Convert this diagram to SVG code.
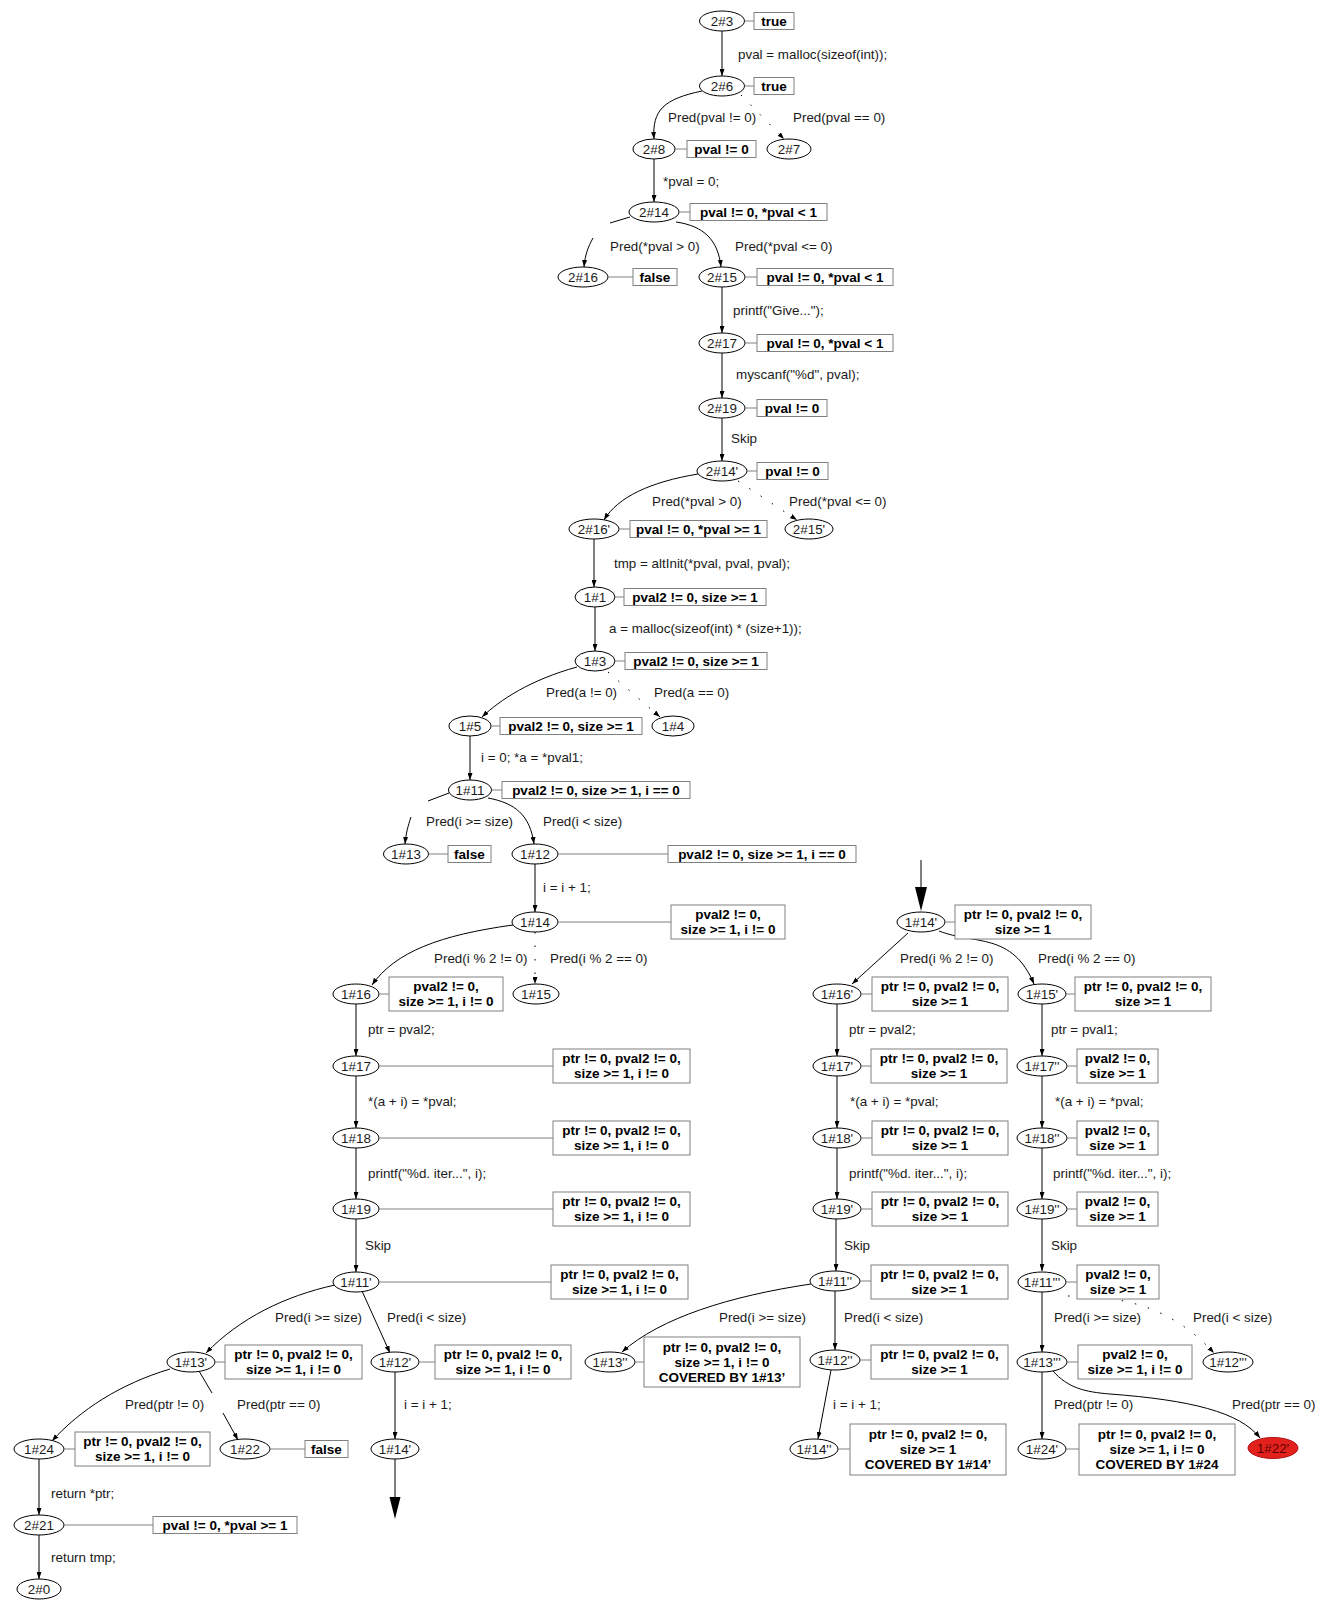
<svg xmlns="http://www.w3.org/2000/svg" width="1329" height="1602" viewBox="0 0 1329 1602">
<defs>
<marker id="ah" markerWidth="7" markerHeight="5" refX="7" refY="2.5" orient="auto" markerUnits="userSpaceOnUse"><path d="M0,0 L7,2.5 L0,5 z" fill="#000"/></marker>
</defs>
<style>
text{font-family:"Liberation Sans",Arial,Helvetica,sans-serif;font-size:13.4px;fill:#1a1a1a}
.n ellipse{fill:#fff;stroke:#000;stroke-width:1}
.n text{text-anchor:middle}
.n text.b{font-weight:bold;font-size:13.5px;fill:#000}
.box{fill:#fff;stroke:#808080;stroke-width:1}
.tie{stroke:#808080;stroke-width:1}
.e{fill:none;stroke:#000;stroke-width:1;marker-end:url(#ah)}
.e0{fill:none;stroke:#000;stroke-width:1}
.d{stroke-dasharray:1.5 12}
.big{fill:#000}
#n1_22pp ellipse{fill:#e2211c;stroke:#b01010}
#n1_22pp text{fill:#5c0000}
</style>
<rect width="1329" height="1602" fill="#fff"/>

<g id="edges">
<path class="e" d="M722,31 V76"/>
<path class="e" d="M702,91 C664,99 652,110 654,139"/>
<path class="e d" d="M741,95 L784,139"/>
<path class="e" d="M654,159 V202"/>
<path class="e0" d="M630,217 L610,223"/>
<path class="e" d="M593,238 C588,247 585,255 584,267"/>
<path class="e" d="M676,222 C704,226 718,240 721,267"/>
<path class="e" d="M722,287 V333"/>
<path class="e" d="M722,353 V398"/>
<path class="e" d="M722,418 V461"/>
<path class="e" d="M698,474 C650,482 618,497 604,520"/>
<path class="e d" d="M738,481 L797,520"/>
<path class="e" d="M594,539 V587"/>
<path class="e" d="M595,607 V651"/>
<path class="e" d="M577,667 C530,680 500,700 482,717"/>
<path class="e d" d="M608,672 L660,717"/>
<path class="e" d="M470,736 V780"/>
<path class="e0" d="M449,793 L428,801"/>
<path class="e" d="M411,817 C408,826 406,833 405,844"/>
<path class="e" d="M488,798 C515,803 530,815 534,844"/>
<path class="e" d="M535,864 V912"/>
<path class="e" d="M513,925 C440,935 395,952 372,985"/>
<path class="e d" d="M535,932 V984"/>
<path class="e" d="M356,1004 V1056"/>
<path class="e" d="M356,1076 V1128"/>
<path class="e" d="M356,1148 V1199"/>
<path class="e" d="M356,1219 V1272"/>
<path class="e" d="M335,1285 C285,1296 240,1318 206,1353"/>
<path class="e" d="M362,1291 L390,1353"/>
<path class="e" d="M170,1369 C120,1384 80,1410 52,1441"/>
<path class="e0" d="M199,1371 L212,1393"/>
<path class="e" d="M223,1413 L238,1440"/>
<path class="e" d="M395,1372 V1439"/>
<path class="e0" d="M395,1459 V1497"/>
<polygon class="big" points="389.5,1497 400.5,1497 395,1519"/>
<path class="e" d="M39,1459 V1515"/>
<path class="e" d="M39,1535 V1579"/>
<path class="e0" d="M921,860 V887"/>
<polygon class="big" points="915,887 927,887 921,911"/>
<path class="e" d="M908,933 L852,984"/>
<path class="e" d="M939,931 C975,945 1012,932 1034,984"/>
<path class="e" d="M837,1004 V1056"/>
<path class="e" d="M837,1076 V1128"/>
<path class="e" d="M837,1148 V1199"/>
<path class="e" d="M836,1219 V1271"/>
<path class="e" d="M1042,1004 V1056"/>
<path class="e" d="M1042,1076 V1128"/>
<path class="e" d="M1042,1148 V1199"/>
<path class="e" d="M1042,1219 V1271"/>
<path class="e" d="M811,1284 C730,1296 660,1318 622,1352"/>
<path class="e" d="M835,1291 V1350"/>
<path class="e" d="M831,1370 L818,1439"/>
<path class="e" d="M1042,1292 V1352"/>
<path class="e d" d="M1068,1296 C1120,1296 1170,1305 1214,1353"/>
<path class="e" d="M1042,1372 V1439"/>
<path class="e" d="M1053,1371 C1068,1388 1085,1392 1110,1394 C1190,1400 1240,1412 1260,1438"/>
</g>

<g id="edge-labels">
<text x="738" y="59">pval = malloc(sizeof(int));</text>
<text x="668" y="122">Pred(pval != 0)</text>
<text x="793" y="122">Pred(pval == 0)</text>
<text x="663" y="186">*pval = 0;</text>
<text x="610" y="251">Pred(*pval &gt; 0)</text>
<text x="735" y="251">Pred(*pval &lt;= 0)</text>
<text x="733" y="315">printf("Give...");</text>
<text x="736" y="379">myscanf("%d", pval);</text>
<text x="731" y="443">Skip</text>
<text x="652" y="506">Pred(*pval &gt; 0)</text>
<text x="789" y="506">Pred(*pval &lt;= 0)</text>
<text x="614" y="568">tmp = altInit(*pval, pval, pval);</text>
<text x="609" y="633">a = malloc(sizeof(int) * (size+1));</text>
<text x="546" y="697">Pred(a != 0)</text>
<text x="654" y="697">Pred(a == 0)</text>
<text x="481" y="762">i = 0; *a = *pval1;</text>
<text x="426" y="826">Pred(i &gt;= size)</text>
<text x="543" y="826">Pred(i &lt; size)</text>
<text x="543" y="892">i = i + 1;</text>
<text x="434" y="963">Pred(i % 2 != 0)</text>
<text x="550" y="963">Pred(i % 2 == 0)</text>
<text x="368" y="1034">ptr = pval2;</text>
<text x="368" y="1106">*(a + i) = *pval;</text>
<text x="368" y="1178">printf("%d. iter...", i);</text>
<text x="365" y="1250">Skip</text>
<text x="275" y="1322">Pred(i &gt;= size)</text>
<text x="387" y="1322">Pred(i &lt; size)</text>
<text x="125" y="1409">Pred(ptr != 0)</text>
<text x="237" y="1409">Pred(ptr == 0)</text>
<text x="404" y="1409">i = i + 1;</text>
<text x="51" y="1498">return *ptr;</text>
<text x="51" y="1562">return tmp;</text>
<text x="900" y="963">Pred(i % 2 != 0)</text>
<text x="1038" y="963">Pred(i % 2 == 0)</text>
<text x="849" y="1034">ptr = pval2;</text>
<text x="1051" y="1034">ptr = pval1;</text>
<text x="850" y="1106">*(a + i) = *pval;</text>
<text x="1055" y="1106">*(a + i) = *pval;</text>
<text x="849" y="1178">printf("%d. iter...", i);</text>
<text x="1053" y="1178">printf("%d. iter...", i);</text>
<text x="844" y="1250">Skip</text>
<text x="1051" y="1250">Skip</text>
<text x="719" y="1322">Pred(i &gt;= size)</text>
<text x="844" y="1322">Pred(i &lt; size)</text>
<text x="1054" y="1322">Pred(i &gt;= size)</text>
<text x="1193" y="1322">Pred(i &lt; size)</text>
<text x="833" y="1409">i = i + 1;</text>
<text x="1054" y="1409">Pred(ptr != 0)</text>
<text x="1232" y="1409">Pred(ptr == 0)</text>
</g>

<!-- upper chain -->
<g id="n2_3" class="n"><ellipse cx="722" cy="21" rx="22.5" ry="10"/><text x="722" y="25.8">2#3</text><line class="tie" x1="744.5" y1="21" x2="754" y2="21"/><rect class="box" x="754" y="12.5" width="40" height="17"/><text class="b" x="774" y="25.8">true</text></g>
<g id="n2_6" class="n"><ellipse cx="722" cy="86" rx="22.5" ry="10"/><text x="722" y="90.8">2#6</text><line class="tie" x1="744.5" y1="86" x2="754" y2="86"/><rect class="box" x="754" y="77.5" width="40" height="17"/><text class="b" x="774" y="90.8">true</text></g>
<g id="n2_8" class="n"><ellipse cx="654" cy="149" rx="21" ry="10"/><text x="654" y="153.8">2#8</text><line class="tie" x1="675" y1="149" x2="687" y2="149"/><rect class="box" x="687" y="140.5" width="69" height="17"/><text class="b" x="721.5" y="153.8">pval != 0</text></g>
<g id="n2_7" class="n"><ellipse cx="789" cy="149" rx="22" ry="10"/><text x="789" y="153.8">2#7</text></g>
<g id="n2_14" class="n"><ellipse cx="654" cy="212" rx="25" ry="10"/><text x="654" y="216.8">2#14</text><line class="tie" x1="679" y1="212" x2="690" y2="212"/><rect class="box" x="690" y="203.5" width="137" height="17"/><text class="b" x="758.5" y="216.8">pval != 0, *pval &lt; 1</text></g>
<g id="n2_16" class="n"><ellipse cx="583" cy="277" rx="25" ry="10"/><text x="583" y="281.8">2#16</text><line class="tie" x1="608" y1="277" x2="633" y2="277"/><rect class="box" x="633" y="268.5" width="44" height="17"/><text class="b" x="655" y="281.8">false</text></g>
<g id="n2_15" class="n"><ellipse cx="722" cy="277" rx="23" ry="10"/><text x="722" y="281.8">2#15</text><line class="tie" x1="745" y1="277" x2="757" y2="277"/><rect class="box" x="757" y="268.5" width="136" height="17"/><text class="b" x="825" y="281.8">pval != 0, *pval &lt; 1</text></g>
<g id="n2_17" class="n"><ellipse cx="722" cy="343" rx="23" ry="10"/><text x="722" y="347.8">2#17</text><line class="tie" x1="745" y1="343" x2="757" y2="343"/><rect class="box" x="757" y="334.5" width="136" height="17"/><text class="b" x="825" y="347.8">pval != 0, *pval &lt; 1</text></g>
<g id="n2_19" class="n"><ellipse cx="722" cy="408" rx="23" ry="10"/><text x="722" y="412.8">2#19</text><line class="tie" x1="745" y1="408" x2="757" y2="408"/><rect class="box" x="757" y="399.5" width="70" height="17"/><text class="b" x="792" y="412.8">pval != 0</text></g>
<g id="n2_14p" class="n"><ellipse cx="722" cy="471" rx="25" ry="10"/><text x="722" y="475.8">2#14'</text><line class="tie" x1="747" y1="471" x2="757" y2="471"/><rect class="box" x="757" y="462.5" width="71" height="17"/><text class="b" x="792.5" y="475.8">pval != 0</text></g>
<g id="n2_16p" class="n"><ellipse cx="594" cy="529" rx="25" ry="10"/><text x="594" y="533.8">2#16'</text><line class="tie" x1="619" y1="529" x2="630" y2="529"/><rect class="box" x="630" y="520.5" width="137" height="17"/><text class="b" x="698.5" y="533.8">pval != 0, *pval &gt;= 1</text></g>
<g id="n2_15p" class="n"><ellipse cx="809" cy="529" rx="24" ry="10"/><text x="809" y="533.8">2#15'</text></g>

<!-- function 1 -->
<g id="n1_1" class="n"><ellipse cx="595" cy="597" rx="20" ry="10"/><text x="595" y="601.8">1#1</text><line class="tie" x1="615" y1="597" x2="624" y2="597"/><rect class="box" x="624" y="588.5" width="142" height="17"/><text class="b" x="695" y="601.8">pval2 != 0, size &gt;= 1</text></g>
<g id="n1_3" class="n"><ellipse cx="595" cy="661" rx="20" ry="10"/><text x="595" y="665.8">1#3</text><line class="tie" x1="615" y1="661" x2="625" y2="661"/><rect class="box" x="625" y="652.5" width="142" height="17"/><text class="b" x="696" y="665.8">pval2 != 0, size &gt;= 1</text></g>
<g id="n1_5" class="n"><ellipse cx="470" cy="726" rx="21" ry="10"/><text x="470" y="730.8">1#5</text><line class="tie" x1="491" y1="726" x2="500" y2="726"/><rect class="box" x="500" y="717.5" width="142" height="17"/><text class="b" x="571" y="730.8">pval2 != 0, size &gt;= 1</text></g>
<g id="n1_4" class="n"><ellipse cx="673" cy="726" rx="21" ry="10"/><text x="673" y="730.8">1#4</text></g>
<g id="n1_11" class="n"><ellipse cx="470" cy="790" rx="21.5" ry="10"/><text x="470" y="794.8">1#11</text><line class="tie" x1="491.5" y1="790" x2="502" y2="790"/><rect class="box" x="502" y="781.5" width="188" height="17"/><text class="b" x="596" y="794.8">pval2 != 0, size &gt;= 1, i == 0</text></g>
<g id="n1_13" class="n"><ellipse cx="406" cy="854" rx="22.5" ry="10"/><text x="406" y="858.8">1#13</text><line class="tie" x1="428.5" y1="854" x2="448" y2="854"/><rect class="box" x="448" y="845.5" width="43" height="17"/><text class="b" x="469.5" y="858.8">false</text></g>
<g id="n1_12" class="n"><ellipse cx="535" cy="854" rx="23" ry="10"/><text x="535" y="858.8">1#12</text><line class="tie" x1="558" y1="854" x2="668" y2="854"/><rect class="box" x="668" y="845.5" width="188" height="17"/><text class="b" x="762" y="858.8">pval2 != 0, size &gt;= 1, i == 0</text></g>
<g id="n1_14" class="n"><ellipse cx="535" cy="922" rx="23" ry="10"/><text x="535" y="926.8">1#14</text><line class="tie" x1="558" y1="922" x2="671" y2="922"/><rect class="box" x="671" y="905" width="114" height="34"/><text class="b" x="728" y="919.3">pval2 != 0,</text><text class="b" x="728" y="934.3">size &gt;= 1, i != 0</text></g>
<g id="n1_16" class="n"><ellipse cx="356" cy="994" rx="23" ry="10"/><text x="356" y="998.8">1#16</text><line class="tie" x1="379" y1="994" x2="389" y2="994"/><rect class="box" x="389" y="977" width="114" height="34"/><text class="b" x="446" y="991.3">pval2 != 0,</text><text class="b" x="446" y="1006.3">size &gt;= 1, i != 0</text></g>
<g id="n1_15" class="n"><ellipse cx="536" cy="994" rx="23" ry="10"/><text x="536" y="998.8">1#15</text></g>
<g id="n1_17" class="n"><ellipse cx="356" cy="1066" rx="23" ry="10"/><text x="356" y="1070.8">1#17</text><line class="tie" x1="379" y1="1066" x2="553" y2="1066"/><rect class="box" x="553" y="1049" width="137" height="34"/><text class="b" x="621.5" y="1063.3">ptr != 0, pval2 != 0,</text><text class="b" x="621.5" y="1078.3">size &gt;= 1, i != 0</text></g>
<g id="n1_18" class="n"><ellipse cx="356" cy="1138" rx="23" ry="10"/><text x="356" y="1142.8">1#18</text><line class="tie" x1="379" y1="1138" x2="553" y2="1138"/><rect class="box" x="553" y="1121" width="137" height="34"/><text class="b" x="621.5" y="1135.3">ptr != 0, pval2 != 0,</text><text class="b" x="621.5" y="1150.3">size &gt;= 1, i != 0</text></g>
<g id="n1_19" class="n"><ellipse cx="356" cy="1209" rx="23" ry="10"/><text x="356" y="1213.8">1#19</text><line class="tie" x1="379" y1="1209" x2="553" y2="1209"/><rect class="box" x="553" y="1192" width="137" height="34"/><text class="b" x="621.5" y="1206.3">ptr != 0, pval2 != 0,</text><text class="b" x="621.5" y="1221.3">size &gt;= 1, i != 0</text></g>
<g id="n1_11p" class="n"><ellipse cx="356" cy="1282" rx="23" ry="10"/><text x="356" y="1286.8">1#11'</text><line class="tie" x1="379" y1="1282" x2="551" y2="1282"/><rect class="box" x="551" y="1265" width="137" height="34"/><text class="b" x="619.5" y="1279.3">ptr != 0, pval2 != 0,</text><text class="b" x="619.5" y="1294.3">size &gt;= 1, i != 0</text></g>
<g id="n1_13p" class="n"><ellipse cx="191" cy="1362" rx="24" ry="10"/><text x="191" y="1366.8">1#13'</text><line class="tie" x1="215" y1="1362" x2="225" y2="1362"/><rect class="box" x="225" y="1345" width="137" height="34"/><text class="b" x="293.5" y="1359.3">ptr != 0, pval2 != 0,</text><text class="b" x="293.5" y="1374.3">size &gt;= 1, i != 0</text></g>
<g id="n1_12p" class="n"><ellipse cx="395" cy="1362" rx="24" ry="10"/><text x="395" y="1366.8">1#12'</text><line class="tie" x1="419" y1="1362" x2="435" y2="1362"/><rect class="box" x="435" y="1345" width="136" height="34"/><text class="b" x="503" y="1359.3">ptr != 0, pval2 != 0,</text><text class="b" x="503" y="1374.3">size &gt;= 1, i != 0</text></g>
<g id="n1_24" class="n"><ellipse cx="39" cy="1449" rx="25" ry="10"/><text x="39" y="1453.8">1#24</text><line class="tie" x1="64" y1="1449" x2="75" y2="1449"/><rect class="box" x="75" y="1432" width="135" height="34"/><text class="b" x="142.5" y="1446.3">ptr != 0, pval2 != 0,</text><text class="b" x="142.5" y="1461.3">size &gt;= 1, i != 0</text></g>
<g id="n1_22" class="n"><ellipse cx="245" cy="1449" rx="25" ry="10"/><text x="245" y="1453.8">1#22</text><line class="tie" x1="270" y1="1449" x2="305" y2="1449"/><rect class="box" x="305" y="1440.5" width="43" height="17"/><text class="b" x="326.5" y="1453.8">false</text></g>
<g id="n1_14p_a" class="n"><ellipse cx="395" cy="1449" rx="24" ry="10"/><text x="395" y="1453.8">1#14'</text></g>
<g id="n2_21" class="n"><ellipse cx="39" cy="1525" rx="25" ry="10"/><text x="39" y="1529.8">2#21</text><line class="tie" x1="64" y1="1525" x2="153" y2="1525"/><rect class="box" x="153" y="1516.5" width="144" height="17"/><text class="b" x="225" y="1529.8">pval != 0, *pval &gt;= 1</text></g>
<g id="n2_0" class="n"><ellipse cx="39" cy="1589" rx="22" ry="10"/><text x="39" y="1593.8">2#0</text></g>

<!-- unrolled second iteration -->
<g id="n1_14p_b" class="n"><ellipse cx="921" cy="922" rx="24" ry="10"/><text x="921" y="926.8">1#14'</text><line class="tie" x1="945" y1="922" x2="955" y2="922"/><rect class="box" x="955" y="905" width="136" height="34"/><text class="b" x="1023" y="919.3">ptr != 0, pval2 != 0,</text><text class="b" x="1023" y="934.3">size &gt;= 1</text></g>
<g id="n1_16p" class="n"><ellipse cx="837" cy="994" rx="24" ry="10"/><text x="837" y="998.8">1#16'</text><line class="tie" x1="861" y1="994" x2="872" y2="994"/><rect class="box" x="872" y="977" width="136" height="34"/><text class="b" x="940" y="991.3">ptr != 0, pval2 != 0,</text><text class="b" x="940" y="1006.3">size &gt;= 1</text></g>
<g id="n1_15p" class="n"><ellipse cx="1042" cy="994" rx="24" ry="10"/><text x="1042" y="998.8">1#15'</text><line class="tie" x1="1066" y1="994" x2="1075" y2="994"/><rect class="box" x="1075" y="977" width="136" height="34"/><text class="b" x="1143" y="991.3">ptr != 0, pval2 != 0,</text><text class="b" x="1143" y="1006.3">size &gt;= 1</text></g>
<g id="n1_17p" class="n"><ellipse cx="837" cy="1066" rx="24" ry="10"/><text x="837" y="1070.8">1#17'</text><line class="tie" x1="861" y1="1066" x2="871" y2="1066"/><rect class="box" x="871" y="1049" width="136" height="34"/><text class="b" x="939" y="1063.3">ptr != 0, pval2 != 0,</text><text class="b" x="939" y="1078.3">size &gt;= 1</text></g>
<g id="n1_17pp" class="n"><ellipse cx="1042" cy="1066" rx="25" ry="10"/><text x="1042" y="1070.8">1#17''</text><line class="tie" x1="1067" y1="1066" x2="1077" y2="1066"/><rect class="box" x="1077" y="1049" width="81" height="34"/><text class="b" x="1117.5" y="1063.3">pval2 != 0,</text><text class="b" x="1117.5" y="1078.3">size &gt;= 1</text></g>
<g id="n1_18p" class="n"><ellipse cx="837" cy="1138" rx="24" ry="10"/><text x="837" y="1142.8">1#18'</text><line class="tie" x1="861" y1="1138" x2="872" y2="1138"/><rect class="box" x="872" y="1121" width="136" height="34"/><text class="b" x="940" y="1135.3">ptr != 0, pval2 != 0,</text><text class="b" x="940" y="1150.3">size &gt;= 1</text></g>
<g id="n1_18pp" class="n"><ellipse cx="1042" cy="1138" rx="25" ry="10"/><text x="1042" y="1142.8">1#18''</text><line class="tie" x1="1067" y1="1138" x2="1077" y2="1138"/><rect class="box" x="1077" y="1121" width="81" height="34"/><text class="b" x="1117.5" y="1135.3">pval2 != 0,</text><text class="b" x="1117.5" y="1150.3">size &gt;= 1</text></g>
<g id="n1_19p" class="n"><ellipse cx="837" cy="1209" rx="24" ry="10"/><text x="837" y="1213.8">1#19'</text><line class="tie" x1="861" y1="1209" x2="872" y2="1209"/><rect class="box" x="872" y="1192" width="136" height="34"/><text class="b" x="940" y="1206.3">ptr != 0, pval2 != 0,</text><text class="b" x="940" y="1221.3">size &gt;= 1</text></g>
<g id="n1_19pp" class="n"><ellipse cx="1042" cy="1209" rx="25" ry="10"/><text x="1042" y="1213.8">1#19''</text><line class="tie" x1="1067" y1="1209" x2="1077" y2="1209"/><rect class="box" x="1077" y="1192" width="81" height="34"/><text class="b" x="1117.5" y="1206.3">pval2 != 0,</text><text class="b" x="1117.5" y="1221.3">size &gt;= 1</text></g>
<g id="n1_11pp" class="n"><ellipse cx="835" cy="1281" rx="25" ry="10"/><text x="835" y="1285.8">1#11''</text><line class="tie" x1="860" y1="1281" x2="871" y2="1281"/><rect class="box" x="871" y="1265" width="137" height="34"/><text class="b" x="939.5" y="1279.3">ptr != 0, pval2 != 0,</text><text class="b" x="939.5" y="1294.3">size &gt;= 1</text></g>
<g id="n1_11ppp" class="n"><ellipse cx="1042" cy="1282" rx="24" ry="10"/><text x="1042" y="1286.8">1#11'''</text><line class="tie" x1="1066" y1="1282" x2="1077" y2="1282"/><rect class="box" x="1077" y="1265" width="82" height="34"/><text class="b" x="1118" y="1279.3">pval2 != 0,</text><text class="b" x="1118" y="1294.3">size &gt;= 1</text></g>
<g id="n1_13pp" class="n"><ellipse cx="610" cy="1362" rx="25" ry="10"/><text x="610" y="1366.8">1#13''</text><line class="tie" x1="635" y1="1362" x2="644" y2="1362"/><rect class="box" x="644" y="1337" width="156" height="50"/><text class="b" x="722" y="1351.8">ptr != 0, pval2 != 0,</text><text class="b" x="722" y="1366.8">size &gt;= 1, i != 0</text><text class="b" x="722" y="1381.8">COVERED BY 1#13’</text></g>
<g id="n1_12pp" class="n"><ellipse cx="835" cy="1360" rx="25" ry="10"/><text x="835" y="1364.8">1#12''</text><line class="tie" x1="860" y1="1360" x2="871" y2="1360"/><rect class="box" x="871" y="1345" width="137" height="34"/><text class="b" x="939.5" y="1359.3">ptr != 0, pval2 != 0,</text><text class="b" x="939.5" y="1374.3">size &gt;= 1</text></g>
<g id="n1_13ppp" class="n"><ellipse cx="1042" cy="1362" rx="25" ry="10"/><text x="1042" y="1366.8">1#13'''</text><line class="tie" x1="1067" y1="1362" x2="1078" y2="1362"/><rect class="box" x="1078" y="1345" width="114" height="34"/><text class="b" x="1135" y="1359.3">pval2 != 0,</text><text class="b" x="1135" y="1374.3">size &gt;= 1, i != 0</text></g>
<g id="n1_12ppp" class="n"><ellipse cx="1228" cy="1362" rx="25" ry="10"/><text x="1228" y="1366.8">1#12'''</text></g>
<g id="n1_14pp" class="n"><ellipse cx="814" cy="1449" rx="24" ry="10"/><text x="814" y="1453.8">1#14''</text><line class="tie" x1="838" y1="1449" x2="850" y2="1449"/><rect class="box" x="850" y="1424" width="156" height="51"/><text class="b" x="928" y="1439">ptr != 0, pval2 != 0,</text><text class="b" x="928" y="1454">size &gt;= 1</text><text class="b" x="928" y="1469">COVERED BY 1#14’</text></g>
<g id="n1_24p" class="n"><ellipse cx="1042" cy="1449" rx="24" ry="10"/><text x="1042" y="1453.8">1#24'</text><line class="tie" x1="1066" y1="1449" x2="1079" y2="1449"/><rect class="box" x="1079" y="1424" width="156" height="51"/><text class="b" x="1157" y="1439">ptr != 0, pval2 != 0,</text><text class="b" x="1157" y="1454">size &gt;= 1, i != 0</text><text class="b" x="1157" y="1469">COVERED BY 1#24</text></g>
<g id="n1_22pp" class="n"><ellipse cx="1273" cy="1448" rx="25" ry="10.5"/><text x="1273" y="1452.8">1#22'</text></g>
</svg>
